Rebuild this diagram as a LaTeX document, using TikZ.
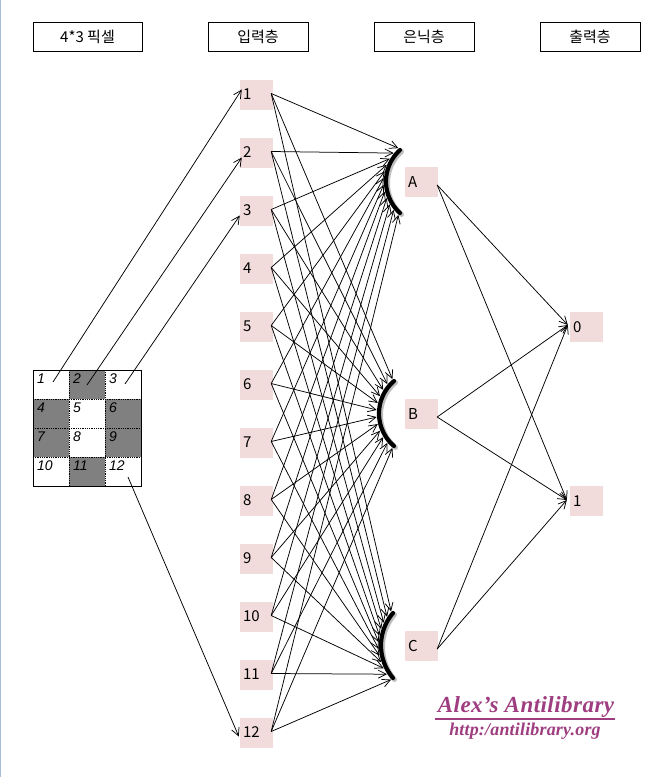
\documentclass[tikz,border=0pt]{standalone}
\usepackage{fontspec}
\setmainfont{Noto Sans CJK KR}
\newfontfamily\wmfont{Liberation Serif}
\newfontfamily\gridfont{Liberation Sans}
\usetikzlibrary{arrows.meta,calc}
\definecolor{nodepink}{RGB}{242,220,219}
\definecolor{cellgray}{RGB}{128,128,128}
\definecolor{wmpurple}{RGB}{158,62,128}
\definecolor{edgeblue}{RGB}{165,188,218}
\begin{document}
\begin{tikzpicture}[x=1pt,y=-1pt,
  hdr/.style={draw=black, line width=0.8pt, fill=white, minimum height=29pt, inner sep=0pt, font=\fontsize{15}{17}\selectfont},
  unit/.style={fill=nodepink, minimum height=30pt, text width=27pt, inner xsep=3pt, inner ysep=0pt, align=left, font=\fontsize{15}{17}\selectfont},
  arr/.style={-{Straight Barb[length=8pt,width=8pt]}, line width=0.75pt},
  arcline/.style={line width=4.2pt, line cap=round},
  arcshadow/.style={line width=5pt, line cap=round, black!25},
  celltxt/.style={anchor=north west, inner sep=0pt, font=\gridfont\itshape\fontsize{14}{16}\selectfont},
  grid/.style={densely dotted, line width=0.8pt}]
\useasboundingbox (0,0) rectangle (670,777);
\fill[white] (0,0) rectangle (670,777);
\draw[edgeblue, line width=2pt] (0,0) -- (0,777);

% headers
\node[hdr, minimum width=109pt] (h1) at (87.5,36.5) {4*3 픽셀};
\node[hdr, minimum width=100pt] (h2) at (258,36.5) {입력층};
\node[hdr, minimum width=100pt] (h3) at (424,36.5) {은닉층};
\node[hdr, minimum width=100pt] (h4) at (590,36.5) {출력층};

% input nodes
\foreach \i in {1,...,12} {
  \node[unit] (in\i) at (256.5,{94.5+58*(\i-1)}) {\i};
}
% hidden nodes
\node[unit] (A) at (421.5,182) {A};
\node[unit] (B) at (421.5,414) {B};
\node[unit] (C) at (421.5,646) {C};
% output nodes
\node[unit] (o0) at (586.5,327) {0};
\node[unit] (o1) at (586.5,501) {1};

% pixel grid
\fill[cellgray] (69,370) rectangle (105,399);
\fill[cellgray] (33,399) rectangle (69,428);
\fill[cellgray] (105,399) rectangle (141,428);
\fill[cellgray] (33,428) rectangle (69,457);
\fill[cellgray] (105,428) rectangle (141,457);
\fill[cellgray] (69,457) rectangle (105,486);
\draw[grid] (69,370) -- (69,486);
\draw[grid] (105,370) -- (105,486);
\draw[grid] (33,399) -- (141,399);
\draw[grid] (33,428) -- (141,428);
\draw[grid] (33,457) -- (141,457);
\draw[line width=0.8pt] (33,370) rectangle (141,486);
\foreach \n/\cx/\cy in {1/0/0,2/1/0,3/2/0,4/0/1,5/1/1,6/2/1,7/0/2,8/1/2,9/2/2,10/0/3,11/1/3,12/2/3} {
  \node[celltxt] (pt\n) at ({37+36*\cx},{373.5+29*\cy}) {\n};
}

% pixel -> input arrows
\coordinate (p1s) at (53,382);
\coordinate (p2s) at (87,385);
\coordinate (p3s) at (125,384);
\coordinate (p12s) at (128,477);
\draw[arr] (p1s) -- ($(in1.west)+(2,-5)$);
\draw[arr] (p2s) -- ($(in2.west)+(2,5)$);
\draw[arr] (p3s) -- ($(in3.west)+(0,5)$);
\draw[arr] (p12s) -- ($(in12.west)+(-1,4)$);

% arc target points
\foreach \h/\cx/\cy/\r/\ph in {A/428.4/181.5/42.4/48, B/421.7/413.5/42.7/49.6, C/431/645.5/50/40.5} {
  \foreach \i in {1,...,12} {
    \pgfmathsetmacro\ang{180+\ph-(\i-1)*2*\ph/11}
    \coordinate (\h\i) at ({\cx+(\r+2.5)*cos(\ang)},{\cy+(\r+2.5)*sin(\ang)});
  }
}
% input -> hidden arrows
\foreach \i in {1,...,12} {
  \foreach \h in {A,B,C} {
    \draw[arr] ($(in\i.east)+(-2,-1)$) -- (\h\i);
  }
}
% arcs
\foreach \cx/\cy/\r/\ph in {428.4/181.5/42.4/48, 421.7/413.5/42.7/49.6, 431/645.5/50/40.5} {
  \draw[arcshadow] plot[domain={180-\ph}:{180+\ph}, samples=40] ({\cx+1.5+\r*cos(\x)},{\cy+1.5+\r*sin(\x)});
  \draw[arcline] plot[domain={180-\ph}:{180+\ph}, samples=40] ({\cx+\r*cos(\x)},{\cy+\r*sin(\x)});
}

% hidden -> output arrows
\foreach \h in {A,B,C} {
  \draw[arr] ($(\h.east)+(-1,3)$) -- ($(o0.west)+(-2,-2)$);
  \draw[arr] ($(\h.east)+(-1,3)$) -- ($(o1.west)+(-3,-1)$);
}

% watermark
\node[anchor=base, inner sep=0pt, text=wmpurple, font=\wmfont\bfseries\itshape\fontsize{23}{25}\selectfont] (wm1) at (526,712) {\addfontfeature{LetterSpace=2}Alex’s Antilibrary};
\draw[wmpurple, line width=1.6pt] (435,719) -- (615,719);
\node[anchor=base, inner sep=0pt, text=wmpurple, font=\wmfont\bfseries\itshape\fontsize{18}{20}\selectfont] (wm2) at (525,735) {\addfontfeature{LetterSpace=1}http:/antilibrary.org};
\end{tikzpicture}
\end{document}
